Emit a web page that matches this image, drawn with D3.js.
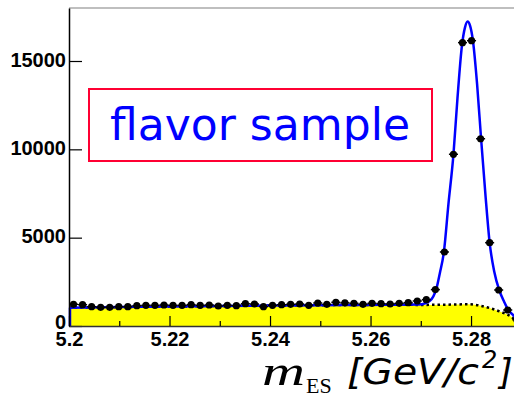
<!DOCTYPE html>
<html>
<head>
<meta charset="utf-8">
<script src="https://cdn.jsdelivr.net/npm/d3@7"></script>
<style>
  body { margin: 0; background: #fff; }
  .tick text { font-family: "Liberation Sans", Arial, sans-serif; font-weight: bold; font-size: 20px; fill: #000; }
</style>
</head>
<body>
<svg width="514" height="397"></svg>
<script>
// bin centres (GeV/c^2), 50 bins of 1.8 MeV
var binCenters = [5.2009, 5.2027, 5.2045, 5.2063, 5.2081, 5.2099, 5.2117, 5.2135, 5.2153, 5.2171,
                  5.2189, 5.2207, 5.2225, 5.2243, 5.2261, 5.2279, 5.2297, 5.2315, 5.2333, 5.2351,
                  5.2369, 5.2387, 5.2405, 5.2423, 5.2441, 5.2459, 5.2477, 5.2495, 5.2513, 5.2531,
                  5.2549, 5.2567, 5.2585, 5.2603, 5.2621, 5.2639, 5.2657, 5.2675, 5.2693, 5.2711,
                  5.2729, 5.2747, 5.2765, 5.2783, 5.2801, 5.2819, 5.2837, 5.2855, 5.2873, 5.2891];
var counts = [1228, 1206, 1093, 1058, 1058, 1093, 1093, 1150, 1170, 1170,
              1189, 1170, 1170, 1206, 1170, 1189, 1132, 1170, 1150, 1262,
              1245, 1093, 1170, 1206, 1228, 1245, 1170, 1302, 1228, 1342,
              1310, 1285, 1228, 1285, 1262, 1245, 1285, 1319, 1415, 1489,
              2060, 4190, 9720, 16040, 16150, 10600, 4716, 2038, 906, 350];
var binHalf = 0.0009;

// background component (yellow / dotted)
var bkgM = [5.200, 5.210, 5.220, 5.230, 5.240, 5.250, 5.260, 5.265, 5.270, 5.275,
            5.2795, 5.282, 5.284, 5.286, 5.288, 5.289, 5.290];
var bkgV = [1040, 1070, 1100, 1130, 1160, 1180, 1195, 1200, 1195, 1205,
            1230, 1140, 990, 790, 520, 300, 0];

// total fit (blue)
var fitM = [5.200, 5.210, 5.220, 5.230, 5.240, 5.250, 5.260, 5.265, 5.2695, 5.2710,
            5.2718, 5.2725, 5.2731, 5.2738, 5.2746, 5.2755, 5.2765, 5.2773, 5.2782, 5.2788,
            5.2793, 5.2798, 5.2804, 5.2812, 5.2820, 5.2829, 5.2837, 5.2846, 5.2856, 5.2866,
            5.2874, 5.2886, 5.2900];
var fitV = [1040, 1070, 1100, 1130, 1160, 1180, 1195, 1200, 1210, 1300,
            1420, 1680, 2100, 3000, 4200, 6900, 9720, 12900, 15900, 16900,
            17230, 17000, 16100, 13700, 10600, 7300, 4716, 3100, 2038, 1360,
            906, 560, 0];

var yTicks = [0, 5000, 10000, 15000];
var xMajor = [5.20, 5.22, 5.24, 5.26, 5.28];
var xMinor = [5.21, 5.23, 5.25, 5.27, 5.29];

var x = d3.scaleLinear().domain([5.2, 5.29]).range([69, 521.3]);
var y = d3.scaleLinear().domain([0, 18000]).range([326, 8]);

var svg = d3.select('svg');

// frame top
svg.append('line')
    .attr('x1', 69).attr('x2', 514).attr('y1', 8).attr('y2', 8)
    .attr('stroke', '#aaa').attr('stroke-width', 1.5);

var bkg = bkgM.map(function(m, i) { return [m, bkgV[i]]; });
var fit = fitM.map(function(m, i) { return [m, fitV[i]]; });

svg.append('path')
    .datum(bkg)
    .attr('fill', '#ffff00')
    .attr('d', d3.area().x(function(d){ return x(d[0]); })
        .y0(y(0)).y1(function(d){ return y(d[1]); })
        .curve(d3.curveMonotoneX));

svg.append('path')
    .datum(bkg)
    .attr('fill', 'none')
    .attr('stroke', '#000')
    .attr('stroke-width', 2.5)
    .attr('stroke-dasharray', '2.5,3')
    .attr('d', d3.line().x(function(d){ return x(d[0]); })
        .y(function(d){ return y(d[1]); })
        .curve(d3.curveMonotoneX));

// fit curve, with its closing edge at the left border
svg.append('line')
    .attr('x1', x(fitM[0]) + 1).attr('x2', x(fitM[0]) + 1)
    .attr('y1', y(0)).attr('y2', y(fitV[0]))
    .attr('stroke', '#0000ff').attr('stroke-width', 2.5);

svg.append('path')
    .datum(fit)
    .attr('fill', 'none')
    .attr('stroke', '#0000ff')
    .attr('stroke-width', 2.5)
    .attr('d', d3.line().x(function(d){ return x(d[0]); })
        .y(function(d){ return y(d[1]); })
        .curve(d3.curveMonotoneX));

// data points
var pts = svg.append('g').selectAll('g')
    .data(binCenters)
    .enter()
    .append('g');

pts.append('line')
    .attr('x1', function(d){ return x(d - binHalf); })
    .attr('x2', function(d){ return x(d + binHalf); })
    .attr('y1', function(d, i){ return y(counts[i]); })
    .attr('y2', function(d, i){ return y(counts[i]); })
    .attr('stroke', '#000').attr('stroke-width', 1.5);

pts.append('circle')
    .attr('cx', function(d){ return x(d); })
    .attr('cy', function(d, i){ return y(counts[i]); })
    .attr('r', 3.6)
    .attr('fill', '#000');

// axes
var yAxis = svg.append('g')
    .attr('transform', 'translate(69,0)')
    .call(d3.axisLeft(y).tickValues(yTicks).tickSize(-13).tickSizeOuter(0).tickPadding(3)
        .tickFormat(d3.format('d')));
yAxis.select('.domain').attr('stroke', '#000').attr('stroke-width', 1.5);
yAxis.selectAll('.tick line').attr('stroke-width', 1.2);
yAxis.selectAll('.tick text')
    .attr('dy', function(d){ return d === 0 ? '0.1em' : '0.25em'; });

var xAxis = svg.append('g')
    .attr('transform', 'translate(0,326)')
    .call(d3.axisBottom(x).tickValues(xMajor).tickSize(-10).tickSizeOuter(0).tickPadding(6)
        .tickFormat(function(d){ return d === 5.2 ? '5.2' : d3.format('.2f')(d); }));
xAxis.select('.domain').attr('stroke', '#333').attr('stroke-width', 1.5);
xAxis.selectAll('.tick line').attr('stroke-width', 1.2);

svg.append('g')
    .attr('transform', 'translate(0,326)')
    .call(d3.axisBottom(x).tickValues(xMinor).tickSize(-5).tickFormat(''))
    .call(function(g){ g.select('.domain').remove(); })
    .selectAll('.tick line').attr('stroke-width', 1.2);

// axis title
svg.append('text')
    .attr('x', 262).attr('y', 385)
    .attr('font-family', '"Liberation Serif", serif')
    .attr('font-style', 'italic')
    .attr('font-size', 42)
    .attr('textLength', 43)
    .attr('lengthAdjust', 'spacingAndGlyphs')
    .text('m');
svg.append('text')
    .attr('x', 306).attr('y', 393)
    .attr('font-family', '"Liberation Serif", serif')
    .attr('font-size', 22)
    .text('ES');
svg.append('text')
    .attr('x', 347).attr('y', 384)
    .attr('font-family', '"DejaVu Sans", sans-serif')
    .attr('font-style', 'italic')
    .attr('font-weight', 300)
    .attr('font-size', 35)
    .attr('textLength', 132)
    .attr('lengthAdjust', 'spacingAndGlyphs')
    .text('[GeV/c');
svg.append('text')
    .attr('x', 482).attr('y', 368)
    .attr('font-family', '"DejaVu Sans", sans-serif')
    .attr('font-style', 'italic')
    .attr('font-size', 24)
    .text('2');
svg.append('text')
    .attr('x', 499).attr('y', 384)
    .attr('font-family', '"DejaVu Sans", sans-serif')
    .attr('font-style', 'italic')
    .attr('font-size', 35)
    .text(']');

// label box
svg.append('rect')
    .attr('x', 89).attr('y', 89).attr('width', 343).attr('height', 72)
    .attr('fill', '#fff').attr('stroke', '#ff0033').attr('stroke-width', 2);
svg.append('text')
    .attr('x', 110).attr('y', 140)
    .attr('font-family', '"Comic Sans MS", "DejaVu Sans", sans-serif')
    .attr('font-size', 44)
    .attr('fill', '#0000ff')
    .attr('textLength', 300)
    .attr('lengthAdjust', 'spacingAndGlyphs')
    .text('flavor sample');
</script>
</body>
</html>
